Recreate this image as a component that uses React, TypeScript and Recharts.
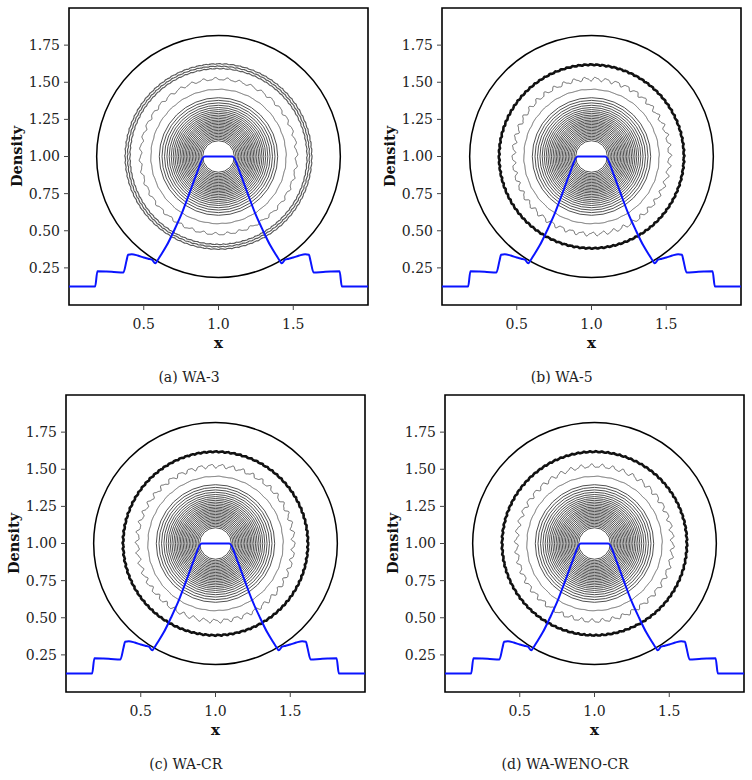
import { LineChart, Line, XAxis, YAxis, ReferenceArea, Label } from 'recharts';

// density along the cut y = 1 through the blast centre
const cutX = [
  0, 0.175, 0.19, 0.25, 0.3, 0.364, 0.385, 0.395, 0.42, 0.46, 0.5, 0.53, 0.555, 0.577,
  0.595, 0.62, 0.653, 0.702, 0.753, 0.804, 0.853, 0.907, 1.0,
  1.093, 1.147, 1.196, 1.247, 1.298, 1.347, 1.38, 1.405, 1.423, 1.445, 1.47, 1.5, 1.54, 1.58,
  1.605, 1.615, 1.636, 1.7, 1.75, 1.81, 1.825, 2.0,
];
const cutRho = [
  0.125, 0.125, 0.228, 0.226, 0.223, 0.219, 0.3, 0.338, 0.342, 0.333, 0.32, 0.312, 0.305, 0.281,
  0.305, 0.345, 0.4, 0.5, 0.613, 0.748, 0.882, 1.0, 1.0,
  1.0, 0.882, 0.748, 0.613, 0.5, 0.4, 0.345, 0.305, 0.281, 0.305, 0.312, 0.32, 0.333, 0.342,
  0.338, 0.3, 0.219, 0.223, 0.226, 0.228, 0.125, 0.125,
];

// contour radii around the centre (1, 1)
const frontRadius = 0.815;
const shockBandRadii = [0.592, 0.608, 0.624];
const shockRadius = 0.618;
const wavyRadius = 0.522;
const innerRadius = 0.452;
const coreRadii = [
  0.396, 0.378, 0.361, 0.345, 0.33, 0.316, 0.303, 0.291, 0.279, 0.268, 0.257, 0.246, 0.236,
  0.226, 0.216, 0.206, 0.196, 0.186, 0.176, 0.166, 0.156, 0.146, 0.136, 0.126, 0.116, 0.106,
];

const schemes = ['WA-3', 'WA-5', 'WA-CR', 'WA-WENO-CR'];
const letters = ['a', 'b', 'c', 'd'];
const xTicks = [0.5, 1.0, 1.5];
const yTicks = [0.25, 0.5, 0.75, 1.0, 1.25, 1.5, 1.75];

const profile = cutX.map((x, i) => ({ x, rho: cutRho[i] }));

const FONT = 'DejaVu Serif';
const PLOT_W = 299;
const PLOT_H = 297;
const Y_AXIS_W = 69;
const X_AXIS_H = 52;
const TOP = 4;
const RIGHT = 8;

const plotOrigins = [
  { left: 69, top: 7.5 },
  { left: 441.7, top: 7.5 },
  { left: 65.7, top: 395 },
  { left: 445, top: 395 },
];

type RingStyle = { stroke: string; width: number; amp?: number; waves?: number; phase?: number };

// draws a contour inside the box that the reference area gets from the axis scales
function ringShape(r: number, st: RingStyle) {
  return (p: any) => {
    const { x, y, width, height } = p;
    const cx = x + width / 2;
    const cy = y + height / 2;
    if (!st.amp) {
      return (
        <ellipse cx={cx} cy={cy} rx={width / 2} ry={height / 2} fill="none" stroke={st.stroke} strokeWidth={st.width} />
      );
    }
    const kx = width / (2 * r);
    const ky = height / (2 * r);
    const n = st.waves ?? 40;
    const ph = st.phase ?? 0;
    const steps = 900;
    let d = '';
    for (let i = 0; i <= steps; i++) {
      const t = (i / steps) * Math.PI * 2;
      const rr = r + st.amp * (0.75 * Math.sin(n * t + ph) + 0.25 * Math.sin((2 * n + 3) * t));
      const px = cx + rr * Math.cos(t) * kx;
      const py = cy - rr * Math.sin(t) * ky;
      d += `${i === 0 ? 'M' : 'L'}${px.toFixed(2)},${py.toFixed(2)}`;
    }
    return <path d={d} fill="none" stroke={st.stroke} strokeWidth={st.width} strokeLinejoin="round" />;
  };
}

function ring(key: string, r: number, st: RingStyle) {
  return (
    <ReferenceArea
      key={key}
      x1={1 - r}
      x2={1 + r}
      y1={1 - r}
      y2={1 + r}
      ifOverflow="visible"
      shape={ringShape(r, st)}
    />
  );
}

function contours(idx: number) {
  const out = [ring('front', frontRadius, { stroke: '#000', width: 1.5 })];
  if (idx === 0) {
    shockBandRadii.forEach((r, i) =>
      out.push(ring(`band${i}`, r, { stroke: '#5a5a5a', width: 1.2, amp: 0.0025, waves: 84, phase: i }))
    );
    out.push(ring('wavy', wavyRadius, { stroke: '#555', width: 0.9, amp: 0.01, waves: 40 }));
  } else {
    out.push(ring('shock', shockRadius, { stroke: '#111', width: 2.6, amp: 0.004, waves: 96, phase: idx }));
    out.push(ring('wavy', wavyRadius, { stroke: '#555', width: 0.9, amp: 0.015, waves: 46, phase: idx }));
  }
  out.push(ring('inner', innerRadius, { stroke: '#555', width: 0.9, amp: 0.002, waves: 30 }));
  coreRadii.forEach((r, i) => out.push(ring(`core${i}`, r, { stroke: '#3c3c3c', width: 0.9 })));
  return out;
}

const XTitle = (p: any) => {
  const vb = p.viewBox;
  return (
    <text x={vb.x + vb.width / 2} y={vb.y + 43} textAnchor="middle" fontFamily={FONT} fontWeight="bold" fontSize={15} fill="#111">
      x
    </text>
  );
};

const YTitle = (p: any) => {
  const vb = p.viewBox;
  const cx = vb.x + vb.width - 47;
  const cy = vb.y + vb.height / 2;
  return (
    <text x={cx} y={cy} transform={`rotate(-90 ${cx} ${cy})`} textAnchor="middle" fontFamily={FONT} fontWeight="bold" fontSize={14.5} fill="#111">
      Density
    </text>
  );
};

function Panel({ idx }: { idx: number }) {
  const o = plotOrigins[idx];
  return (
    <>
      <div style={{ position: 'absolute', left: o.left - Y_AXIS_W, top: o.top - TOP }}>
        <LineChart
          width={Y_AXIS_W + PLOT_W + RIGHT}
          height={TOP + PLOT_H + X_AXIS_H}
          data={profile}
          margin={{ top: TOP, right: RIGHT, bottom: 0, left: 0 }}
        >
          <XAxis
            type="number"
            dataKey="x"
            domain={[0, 2]}
            ticks={xTicks}
            tickFormatter={(v: number) => v.toFixed(1)}
            axisLine={false}
            tickSize={5}
            tickMargin={9}
            height={X_AXIS_H}
            tickLine={{ stroke: '#444' }}
            tick={{ fontFamily: FONT, fontSize: 14, fill: '#222' }}
          >
            <Label content={XTitle} />
          </XAxis>
          <YAxis
            type="number"
            domain={[0, 2]}
            ticks={yTicks}
            tickFormatter={(v: number) => v.toFixed(2)}
            axisLine={false}
            tickSize={5}
            tickMargin={4}
            width={Y_AXIS_W}
            tickLine={{ stroke: '#444' }}
            tick={{ fontFamily: FONT, fontSize: 14, fill: '#222' }}
          >
            <Label content={YTitle} />
          </YAxis>
          {contours(idx)}
          <ReferenceArea x1={0} x2={2} y1={0} y2={2} fill="none" fillOpacity={0} stroke="#000" strokeWidth={1.6} />
          <Line
            type="monotoneX"
            dataKey="rho"
            stroke="#0a14ff"
            strokeWidth={2}
            dot={false}
            isAnimationActive={false}
          />
        </LineChart>
      </div>
      <div
        style={{
          position: 'absolute',
          left: o.left + 120 - 100,
          top: o.top + PLOT_H + 65,
          width: 200,
          textAlign: 'center',
          fontFamily: FONT,
          fontSize: 14,
          lineHeight: '15px',
          color: '#222',
        }}
      >
        ({letters[idx]}) {schemes[idx]}
      </div>
    </>
  );
}

export default function App() {
  return (
    <div style={{ position: 'absolute', left: 0, top: 0, width: 752, height: 780, background: '#fff' }}>
      {schemes.map((_, i) => (
        <Panel key={i} idx={i} />
      ))}
    </div>
  );
}
